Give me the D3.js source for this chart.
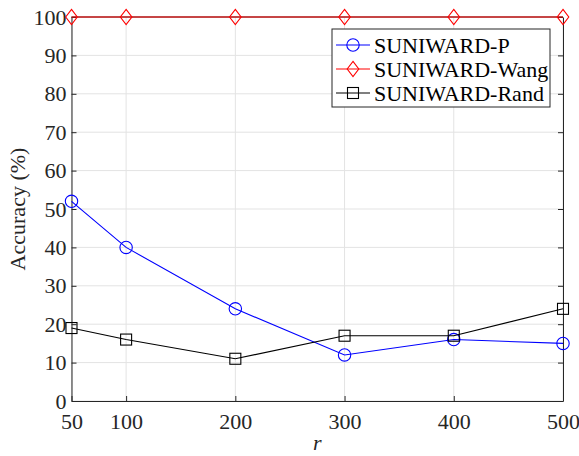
<!DOCTYPE html>
<html>
<head>
<meta charset="utf-8">
<script src="https://cdn.jsdelivr.net/npm/d3@7"></script>
<style>
  body { margin: 0; background: #fff; }
  svg { display: block; }
  svg text { font-family: "Liberation Serif", "Times New Roman", serif; }
</style>
</head>
<body>
<div id="chart"></div>
<script>
// data
var rValues = [50, 100, 200, 300, 400, 500];
var accP    = [52, 40, 24, 12, 16, 15];
var accWang = [100, 100, 100, 100, 100, 100];
var accRand = [19, 16, 11, 17, 17, 24];
var yTicks  = [0, 10, 20, 30, 40, 50, 60, 70, 80, 90, 100];
var seriesNames = ["SUNIWARD-P", "SUNIWARD-Wang", "SUNIWARD-Rand"];

var W = 579, H = 456;
var margin = {left: 71.5, right: 16, top: 17, bottom: 55};
var axisColor = "#262626";
var fontSize = "22px";

var svg = d3.select("#chart").append("svg")
	.attr("width", W).attr("height", H);

var x = d3.scaleLinear().domain([50, 500]).range([margin.left, W - margin.right]);
var y = d3.scaleLinear().domain([0, 100]).range([H - margin.bottom, margin.top]);

// grid
var grid = svg.append("g").attr("class", "grid");
grid.selectAll(".gx").data(rValues).enter().append("line")
	.attr("x1", function(d){ return x(d); }).attr("x2", function(d){ return x(d); })
	.attr("y1", y(0)).attr("y2", y(100))
	.style("stroke", "#e3e3e3").style("stroke-width", 1);
grid.selectAll(".gy").data(yTicks).enter().append("line")
	.attr("y1", function(d){ return y(d); }).attr("y2", function(d){ return y(d); })
	.attr("x1", x(50)).attr("x2", x(500))
	.style("stroke", "#e3e3e3").style("stroke-width", 1);

// axes (ticks inward like matlab)
var xAxis = svg.append("g")
	.attr("transform", "translate(0," + y(0) + ")")
	.call(d3.axisBottom(x).tickValues(rValues).tickSizeInner(-5).tickSizeOuter(0).tickPadding(12));
var yAxis = svg.append("g")
	.attr("transform", "translate(" + x(50) + ",0)")
	.call(d3.axisLeft(y).tickValues(yTicks).tickSizeInner(-5).tickSizeOuter(0).tickPadding(5));
var yAxisR = svg.append("g")
	.attr("transform", "translate(" + x(500) + ",0)")
	.call(d3.axisRight(y).tickValues(yTicks).tickSizeInner(-5).tickSizeOuter(0).tickFormat(""));
svg.append("line")
	.attr("x1", x(50)).attr("x2", x(500)).attr("y1", y(100)).attr("y2", y(100))
	.style("stroke", axisColor);

[xAxis, yAxis, yAxisR].forEach(function(a){
	a.attr("font-family", null).attr("font-size", null);
	a.select(".domain").style("stroke", axisColor);
	a.selectAll(".tick line").style("stroke", axisColor);
	a.selectAll(".tick text")
		.style("font-size", fontSize)
		.attr("fill", axisColor);
});
yAxis.selectAll(".tick text").attr("dy", "0.32em");

// axis labels
svg.append("text")
	.attr("x", x(275)).attr("y", 450)
	.attr("text-anchor", "middle")
	.style("font-size", fontSize).style("font-style", "italic")
	.attr("fill", axisColor)
	.text("r");
svg.append("text")
	.attr("transform", "translate(25," + y(50) + ") rotate(-90)")
	.attr("text-anchor", "middle")
	.style("font-size", fontSize)
	.attr("fill", axisColor)
	.text("Accuracy (%)");

// series
var line = d3.line()
	.x(function(d){ return x(d[0]); })
	.y(function(d){ return y(d[1]); });

function zip(vals){ return rValues.map(function(r, i){ return [r, vals[i]]; }); }

var series = [
	{name: seriesNames[0], vals: accP, color: "#0000ff", marker: "circle"},
	{name: seriesNames[1], vals: accWang, color: "#ff0000", marker: "diamond"},
	{name: seriesNames[2], vals: accRand, color: "#000000", marker: "square"}
];

function drawMarker(g, type, cx, cy, color){
	if(type === "circle"){
		g.append("circle").attr("cx", cx).attr("cy", cy).attr("r", 6.2)
			.style("fill", "none").style("stroke", color).style("stroke-width", 1.1);
	} else if(type === "diamond"){
		g.append("path")
			.attr("d", "M" + cx + "," + (cy - 7.7) + "L" + (cx + 5.8) + "," + cy + "L" + cx + "," + (cy + 7.7) + "L" + (cx - 5.8) + "," + cy + "Z")
			.style("fill", "none").style("stroke", color).style("stroke-width", 1.1);
	} else {
		g.append("rect").attr("x", cx - 5.5).attr("y", cy - 5.5).attr("width", 11).attr("height", 11)
			.style("fill", "none").style("stroke", color).style("stroke-width", 1.1);
	}
}

series.forEach(function(s){
	var g = svg.append("g");
	g.append("path").datum(zip(s.vals))
		.attr("d", line)
		.style("fill", "none").style("stroke", s.color).style("stroke-width", 1.1);
	zip(s.vals).forEach(function(p){ drawMarker(g, s.marker, x(p[0]), y(p[1]), s.color); });
});

// legend
var lg = svg.append("g").attr("transform", "translate(332,29)");
lg.append("rect").attr("width", 218).attr("height", 78)
	.style("fill", "#fff").style("stroke", axisColor).style("stroke-width", 1);
series.forEach(function(s, i){
	var cy = 16 + i * 24;
	lg.append("line").attr("x1", 4).attr("x2", 38).attr("y1", cy).attr("y2", cy)
		.style("stroke", s.color).style("stroke-width", 1.1);
	drawMarker(lg, s.marker, 21, cy, s.color);
	lg.append("text").attr("x", 42).attr("y", cy).attr("dy", "0.35em")
		.style("font-size", fontSize).attr("fill", "#000")
		.text(s.name);
});
</script>
</body>
</html>
